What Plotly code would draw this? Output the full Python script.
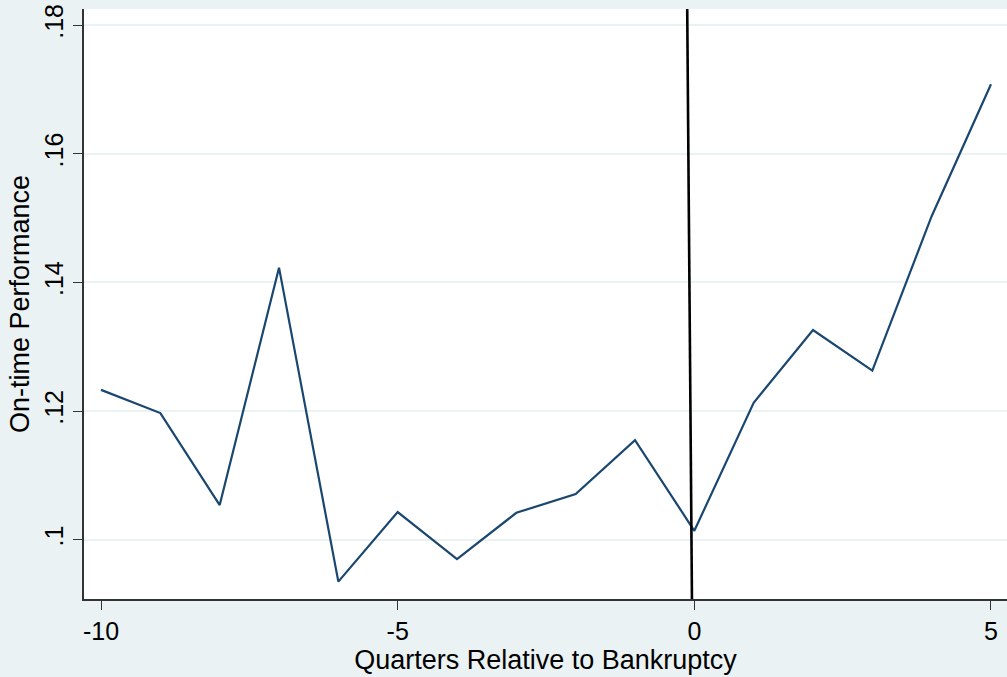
import plotly.graph_objects as go

quarters = [-10, -9, -8, -7, -6, -5, -4, -3, -2, -1, 0, 1, 2, 3, 4, 5]
ontime = [0.1233, 0.1197, 0.1054, 0.1423, 0.0935, 0.1043, 0.0970, 0.1042,
          0.1071, 0.1155, 0.1014, 0.1213, 0.1326, 0.1263, 0.1503, 0.1708]
vline_x = [-0.12, -0.04]
vline_y = [0.1825, 0.0908]
ytick_vals = [0.10, 0.12, 0.14, 0.16, 0.18]
ytick_text = [".1", ".12", ".14", ".16", ".18"]
xtick_vals = [-10, -5, 0, 5]
xtick_text = ["-10", "-5", "0", "5"]

BG = "#EAF2F3"
fig = go.Figure()
fig.add_trace(go.Scatter(x=quarters, y=ontime, mode="lines",
                         line=dict(color="#1a476f", width=2.2), showlegend=False))
fig.add_trace(go.Scatter(x=vline_x, y=vline_y, mode="lines",
                         line=dict(color="black", width=2.6), showlegend=False))

font = "Liberation Sans, Arial, sans-serif"
fig.update_layout(
    width=1007, height=677,
    margin=dict(l=84, r=0, t=9, b=78),
    paper_bgcolor=BG, plot_bgcolor="white",
    font=dict(family=font, size=24, color="black"),
    xaxis=dict(range=[-10.287, 5.27], tickvals=xtick_vals, ticktext=xtick_text,
               showgrid=False, zeroline=False, showline=True, linecolor="#333333",
               linewidth=1.5, ticks="outside", ticklen=9, tickcolor="#333333",
               tickwidth=1.2, tickfont=dict(size=25),
               title=dict(text="Quarters Relative to Bankruptcy", font=dict(size=27), standoff=0)),
    yaxis=dict(range=[0.0908, 0.1825], tickvals=ytick_vals, ticktext=ytick_text,
               tickangle=-90, showgrid=True, gridcolor=BG, gridwidth=2,
               zeroline=False, showline=True, linecolor="#333333", linewidth=1.5,
               ticks="outside", ticklen=9, tickcolor="#333333", tickwidth=1.2,
               tickfont=dict(size=25),
               title=dict(text="On-time Performance", font=dict(size=27), standoff=3)),
)
fig.write_html("out.html", config={"displayModeBar": False},
               post_script="document.body.style.margin='0';document.body.style.padding='0';")
